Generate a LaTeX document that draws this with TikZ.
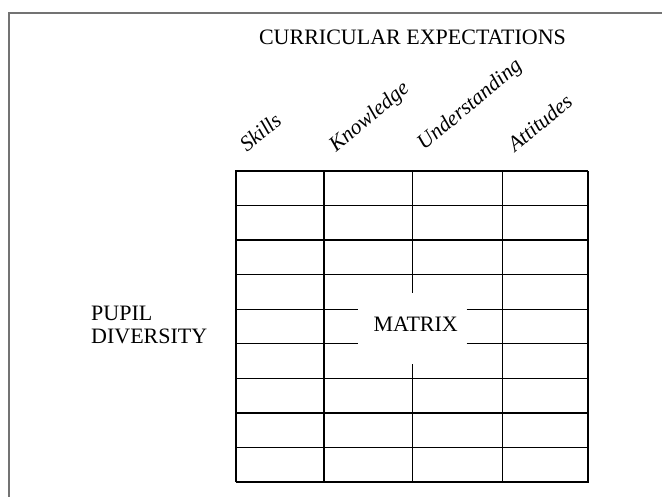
\documentclass[tikz,border=0pt]{standalone}
\usepackage{fontspec}
\setmainfont{Liberation Serif}
\begin{document}
\begin{tikzpicture}[x=1pt,y=-1pt,
  gridline/.style={line width=1.4pt,black},
  heavyline/.style={line width=2.8pt,black,line join=miter},
  frameline/.style={line width=1.6pt,black!55},
  caplabel/.style={font=\fontsize{22}{23}\selectfont, inner sep=0pt},
  collabel/.style={font=\fontsize{21.5}{23}\selectfont\itshape, rotate=40, anchor=base west, inner sep=0pt}]
\useasboundingbox (0,0) rectangle (662,497);
% outer frame
\draw[frameline] (9,497) -- (9,13) -- (662,13);
% headings
\node[caplabel, anchor=base] (ce) at (412.5,44.5) {CURRICULAR EXPECTATIONS};
\node[collabel] (skills) at (247,153) {Skills};
\node[collabel] (know) at (336,153) {Knowledge};
\node[collabel] (under) at (424,151) {Understanding};
\node[collabel] (att) at (515,153) {Attitudes};
\node[caplabel, align=left, anchor=west] (pupil) at (91,325) {PUPIL\\DIVERSITY};
\node[caplabel, anchor=base] (matrix) at (415.7,332) {MATRIX};
% grid
\def\L{236}\def\R{588}\def\T{171}\def\B{482}
\draw[gridline] (\L,\B) -- (\L,\T) -- (\R,\T);
\foreach \k in {1,2,3,6,7,8} {
  \draw[gridline] (\L,{\T+34.56*\k}) -- (\R,{\T+34.56*\k});
}
\foreach \k in {4,5} {
  \draw[gridline] (\L,{\T+34.56*\k}) -- (357.7,{\T+34.56*\k});
  \draw[gridline] (466.7,{\T+34.56*\k}) -- (\R,{\T+34.56*\k});
}
\draw[gridline] (324,\T) -- (324,\B);
\draw[gridline] (502.3,\T) -- (502.3,\B);
\draw[gridline] (412.3,\T) -- (412.3,292.7);
\draw[gridline] (412.3,364.3) -- (412.3,\B);
\draw[heavyline] (\L,\B) -- (\R,\B) -- (\R,\T);
\end{tikzpicture}
\end{document}
